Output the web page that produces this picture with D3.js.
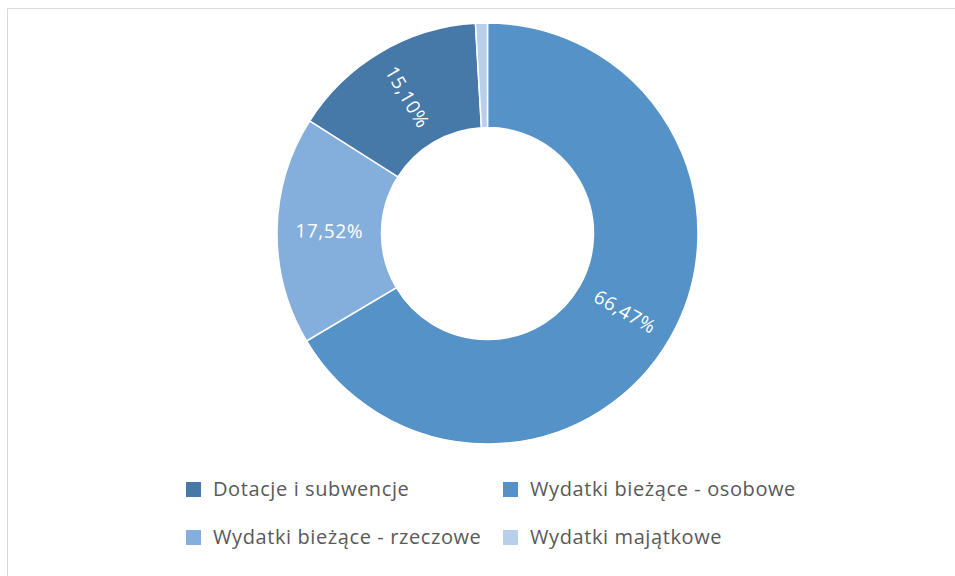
<!DOCTYPE html>
<html>
<head>
<meta charset="utf-8">
<script src="https://cdn.jsdelivr.net/npm/d3@7"></script>
<style>
  body { margin: 0; background: #fff; }
  svg { display: block; }
</style>
</head>
<body>
<svg id="chart" width="955" height="576"></svg>
<script>
// slices in drawing order, clockwise from 12 o'clock
var sliceNames = ["Wydatki bieżące - osobowe", "Wydatki bieżące - rzeczowe", "Dotacje i subwencje", "Wydatki majątkowe"];
var sliceValues = [66.47, 17.52, 15.10, 0.91];
var sliceColors = ["#5592c8", "#84afdd", "#4678a8", "#b9cfe9"];
var showLabel = [true, true, true, false];

// legend order
var legendNames = ["Dotacje i subwencje", "Wydatki bieżące - osobowe", "Wydatki bieżące - rzeczowe", "Wydatki majątkowe"];

var chart = d3.select("#chart");

// chart area frame (only left and top visible)
chart.append("path")
  .attr("d", "M7.5,576 L7.5,8.5 L955,8.5")
  .style("fill", "none")
  .style("stroke", "#d9d9d9")
  .style("stroke-width", 1);

var cx = 487.5, cy = 233.5, rOut = 210.5, rIn = 106;

var colorOf = d3.scaleOrdinal().domain(sliceNames).range(sliceColors);

var pie = d3.pie().sort(null).value(function(d, i) { return sliceValues[i]; });
var arcs = pie(sliceNames);

var arc = d3.arc().innerRadius(rIn).outerRadius(rOut);

var g = chart.append("g").attr("transform", "translate(" + cx + "," + cy + ")");

g.selectAll("path.slice")
  .data(arcs)
  .enter().append("path")
  .attr("class", "slice")
  .attr("d", arc)
  .style("fill", function(d) { return colorOf(d.data); })
  .style("stroke", "#ffffff")
  .style("stroke-width", 1.5);

function fmt(v) { return v.toFixed(2).replace(".", ",") + "%"; }

g.selectAll("text.lbl")
  .data(arcs.filter(function(d, i) { return showLabel[i]; }))
  .enter().append("text")
  .attr("class", "lbl")
  .attr("transform", function(d) {
    var c = arc.centroid(d);
    var mid = (d.startAngle + d.endAngle) / 2 * 180 / Math.PI;
    var rot = mid - 90;
    if (rot > 90) rot -= 180;
    if (rot < -90) rot += 180;
    return "translate(" + c[0] + "," + c[1] + ") rotate(" + rot + ")";
  })
  .attr("text-anchor", "middle")
  .attr("dy", "0.35em")
  .style("font-family", "'Open Sans', sans-serif")
  .style("font-size", "19px")
  .style("letter-spacing", "0.6px")
  .style("fill", "#ffffff")
  .text(function(d, i) { return fmt(d.value); });

// legend
var legX = [186, 503], legY = [489, 537];
var leg = chart.selectAll("g.leg")
  .data(legendNames)
  .enter().append("g")
  .attr("class", "leg")
  .attr("transform", function(d, i) { return "translate(" + legX[i % 2] + "," + legY[Math.floor(i / 2)] + ")"; });

leg.append("rect")
  .attr("x", 0)
  .attr("y", -7)
  .attr("width", 15)
  .attr("height", 15)
  .style("fill", function(d) { return colorOf(d); });

leg.append("text")
  .attr("x", 27)
  .attr("dy", "0.35em")
  .style("font-family", "'Open Sans', sans-serif")
  .style("font-size", "20px")
  .style("letter-spacing", "0.6px")
  .style("fill", "#595959")
  .text(function(d) { return d; });
</script>
</body>
</html>
